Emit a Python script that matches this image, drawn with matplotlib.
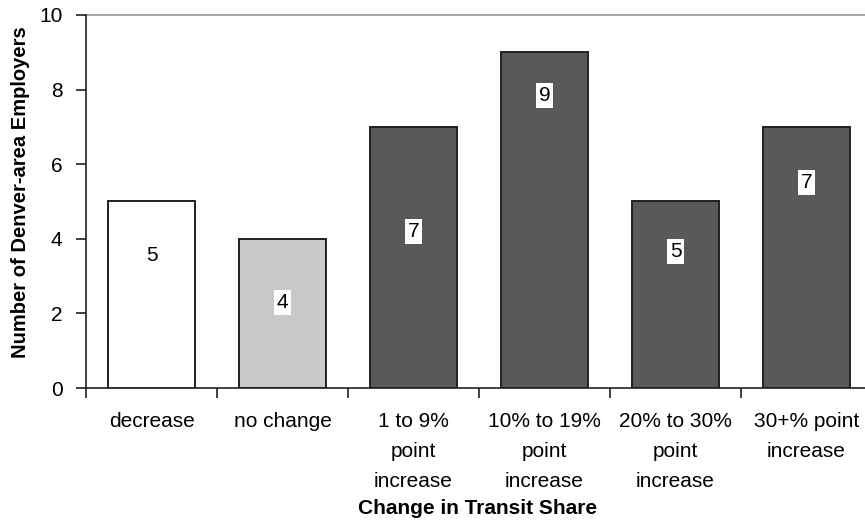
import matplotlib
matplotlib.use("Agg")
import matplotlib.pyplot as plt
import numpy as np

plt.rcParams['font.family'] = ['Liberation Sans', 'DejaVu Sans']

categories = ["decrease", "no change", "1 to 9%\npoint\nincrease",
              "10% to 19%\npoint\nincrease", "20% to 30%\npoint\nincrease",
              "30+% point\nincrease"]
employers = [5, 4, 7, 9, 5, 7]
# vertical placement of the value labels (data units)
label_y = [3.55, 2.3, 4.2, 7.84, 3.65, 5.5]
bar_colors = ["#ffffff", "#c8c9cb", "#58595b", "#58595b", "#58595b", "#58595b"]

fig = plt.figure(figsize=(8.65, 5.23), dpi=100)
ax = fig.add_axes([86 / 865, 1 - 388 / 523, 786 / 865, 373 / 523])

x = np.arange(len(categories))
ax.bar(x, employers, width=0.67, color=bar_colors, edgecolor="#231f20",
       linewidth=1.4, zorder=3)

for xi, v, ly in zip(x, employers, label_y):
    ax.text(xi, ly, str(v), ha="center", va="center", fontsize=15,
            color="black", zorder=4,
            bbox=dict(boxstyle="square,pad=0.15", fc="white", ec="none"))

ax.set_xlim(-0.5, 5.5)
ax.set_ylim(0, 10)
ax.set_yticks(np.arange(0, 11, 2))
ax.axhline(10, color="#a6a6a6", lw=1.4, zorder=1, clip_on=False)

# tick marks at category boundaries, labels at centres
ax.set_xticks(np.arange(-0.5, 5.6, 1))
ax.set_xticklabels([])
ax.set_xticks(x, minor=True)
ax.set_xticklabels(categories, minor=True, fontsize=15, linespacing=1.74)
ax.tick_params(axis="x", which="minor", length=0, pad=17)
ax.tick_params(axis="x", which="major", direction="out", length=7,
               width=1.2, color="#231f20")
ax.tick_params(axis="y", direction="out", length=7, width=1.2,
               color="#231f20", labelsize=15, pad=10)

for side in ("top", "right"):
    ax.spines[side].set_visible(False)
for side in ("left", "bottom"):
    ax.spines[side].set_color("#231f20")
    ax.spines[side].set_linewidth(1.2)

fig.text(21 / 865, 1 - 192 / 523, "Number of Denver-area Employers",
         rotation=90, ha="center", va="center", fontsize=14.5,
         fontweight="bold")
fig.text(478 / 865, 1 - 508 / 523, "Change in Transit Share",
         ha="center", va="center", fontsize=15, fontweight="bold")

fig.savefig("out.png", dpi=100)
